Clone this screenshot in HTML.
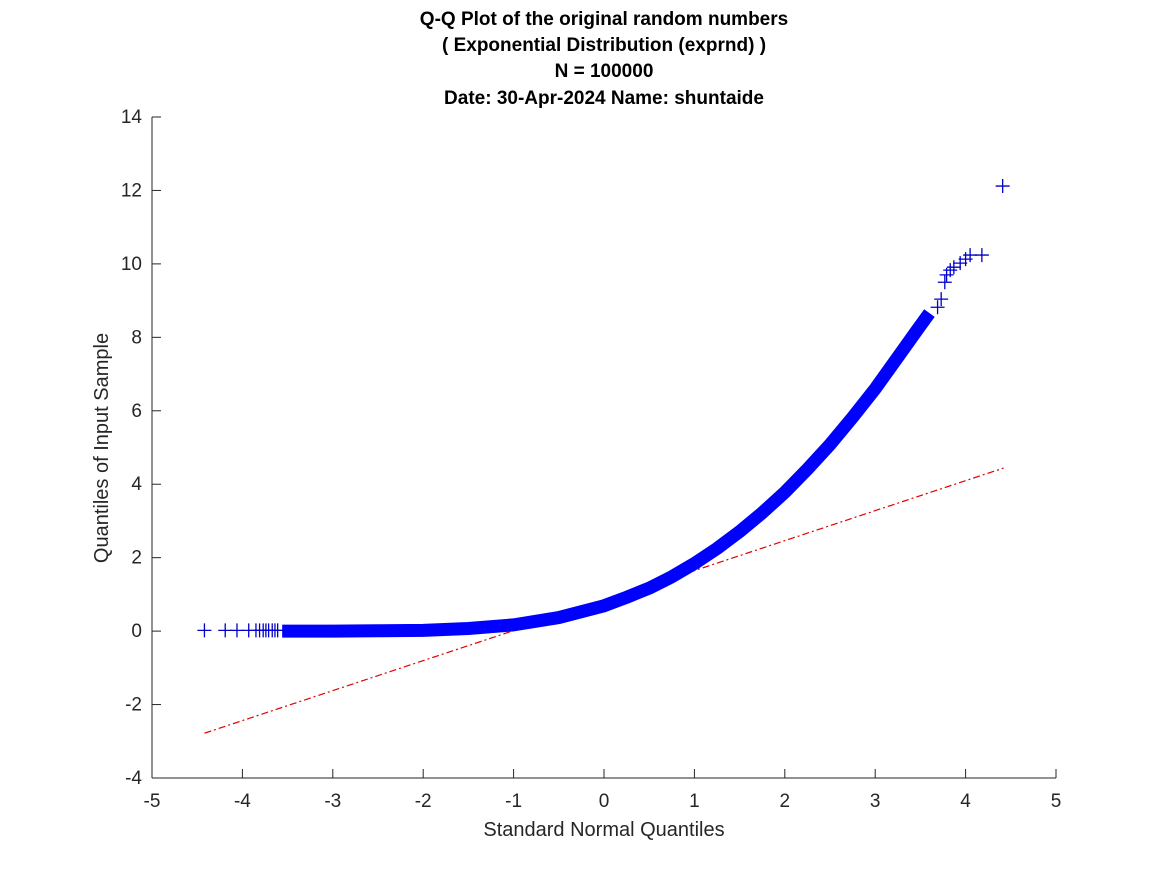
<!DOCTYPE html>
<html><head><meta charset="utf-8"><style>
body{margin:0;background:#fff}
svg text{font-family:"Liberation Sans",Arial,sans-serif;fill:#262626}
</style></head><body>
<svg width="1167" height="875" xmlns="http://www.w3.org/2000/svg">
<g font-weight="bold" font-size="19" text-anchor="middle">
<text x="604" y="25" style="fill:#000">Q-Q Plot of the original random numbers</text>
<text x="604" y="51" style="fill:#000">( Exponential Distribution (exprnd) )</text>
<text x="604" y="77" style="fill:#000">N = 100000</text>
<text x="604" y="104" style="fill:#000">Date: 30-Apr-2024 Name: shuntaide</text>
</g>
<g id="axes"></g>
<g id="marks"></g>
<text x="604" y="836" font-size="20" text-anchor="middle">Standard Normal Quantiles</text>
<text transform="translate(108,448) rotate(-90)" font-size="20" text-anchor="middle">Quantiles of Input Sample</text>
</svg>
<script>
const xTicks=[-5,-4,-3,-2,-1,0,1,2,3,4,5];
const yTicks=[-4,-2,0,2,4,6,8,10,12,14];
const curveX=[-3.56,-3,-2.5,-2,-1.5,-1,-0.5,0,0.25,0.5,0.75,1,1.25,1.5,1.75,2,2.25,2.5,2.75,3,3.25,3.45,3.6];
const curveY=[0.0,0.0,0.01,0.02,0.07,0.17,0.37,0.69,0.92,1.17,1.48,1.84,2.25,2.71,3.22,3.78,4.41,5.08,5.82,6.6,7.46,8.15,8.66];
const tailX=[-4.42,-4.19,-4.06,-3.93,-3.85,-3.81,-3.77,-3.74,-3.71,-3.67,-3.64,-3.61,3.69,3.73,3.77,3.79,3.83,3.87,3.94,4.0,4.05,4.18,4.41];
const tailY=[0.02,0.02,0.02,0.02,0.02,0.02,0.02,0.02,0.02,0.02,0.02,0.02,8.82,9.04,9.5,9.7,9.83,9.91,10.02,10.13,10.24,10.24,12.12];
const refX=[-4.42,4.42];
const refY=[-2.78,4.44];
const X0=152,X1=1056,Y0=778,Y1=117;
const sx=v=>X0+(v+5)/10*(X1-X0);
const sy=v=>Y0-(v+4)/18*(Y0-Y1);
const NS='http://www.w3.org/2000/svg';
function mk(t,a,p){const e=document.createElementNS(NS,t);for(const k in a)e.setAttribute(k,a[k]);p.appendChild(e);return e;}
const ax=document.getElementById('axes'),mg=document.getElementById('marks');
const xl=mk('line',{x1:X0,y1:Y0,x2:X1,y2:Y0,stroke:'#262626'},ax);


const yl=mk('line',{x1:X0,y1:Y0,x2:X0,y2:Y1,stroke:'#262626'},ax);


xTicks.forEach(v=>{const x=sx(v);mk('line',{x1:x,y1:Y0,x2:x,y2:Y0-9,stroke:'#262626'},ax);
const t=mk('text',{x:x,y:Y0+29,'font-size':19,'text-anchor':'middle'},ax);t.textContent=v;

});
yTicks.forEach(v=>{const y=sy(v);mk('line',{x1:X0,y1:y,x2:X0+9,y2:y,stroke:'#262626'},ax);
const t=mk('text',{x:X0-10,y:y+6,'font-size':19,'text-anchor':'end'},ax);t.textContent=v;

});
const r=mk('line',{x1:sx(refX[0]),y1:sy(refY[0]),x2:sx(refX[1]),y2:sy(refY[1]),stroke:'#e00000','stroke-width':1.2,'stroke-dasharray':'7 3 2 3'},mg);


const pts=curveX.map((v,i)=>sx(v)+','+sy(curveY[i])).join(' ');
const c=mk('polyline',{points:pts,fill:'none',stroke:'#0000ff','stroke-width':13,'stroke-linejoin':'round','stroke-linecap':'butt'},mg);


tailX.forEach((v,i)=>{const x=sx(v),y=sy(tailY[i]);
const p=mk('path',{d:`M${x-7},${y}H${x+7}M${x},${y-7}V${y+7}`,stroke:'#0000c8','stroke-width':1.3},mg);

});
</script>
</body></html>
